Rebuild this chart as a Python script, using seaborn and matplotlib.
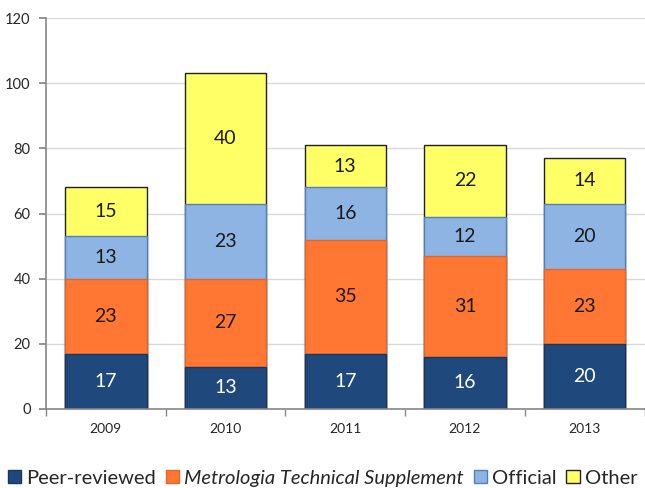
import matplotlib
matplotlib.use("Agg")
import matplotlib.pyplot as plt
import seaborn as sns
import pandas as pd
import numpy as np
from matplotlib.patches import Patch

years = ["2009", "2010", "2011", "2012", "2013"]
peer = [17, 13, 17, 16, 20]
metro = [23, 27, 35, 31, 23]
official = [13, 23, 16, 12, 20]
other = [15, 40, 13, 22, 14]
series_names = ["Peer-reviewed", "Metrologia Technical Supplement", "Official", "Other"]
colors = ["#1F497D", "#FF7733", "#8EB4E3", "#FFFF66"]
edges = ["#17375E", "#E0662A", "#4F81BD", "#202020"]
text_colors = ["white", "#1a1a1a", "#1a1a1a", "#1a1a1a"]
yticks = [0, 20, 40, 60, 80, 100, 120]

sns.set_theme(style="white")
plt.rcParams["font.family"] = ["Lato", "DejaVu Sans"]

series = [peer, metro, official, other]
cum = np.cumsum(np.array(series), axis=0)

fig = plt.figure(figsize=(6.45, 4.88), dpi=100)
ax = fig.add_axes([0.0713, 0.162, 0.928, 0.801])

for i in reversed(range(4)):
    df = pd.DataFrame({"year": years, "val": cum[i]})
    sns.barplot(data=df, x="year", y="val", color=colors[i], saturation=1,
                width=0.68, edgecolor=edges[i], linewidth=1.0, ax=ax, zorder=2)

for i in range(4):
    for j, y in enumerate(years):
        ax.text(j, cum[i][j] - series[i][j] / 2, str(series[i][j]), ha="center",
                va="center", fontsize=14, color=text_colors[i], zorder=5)

ax.set_ylim(0, 120)
ax.set_xlim(-0.5, 4.5)
ax.set_yticks(yticks)
ax.set_yticklabels([str(t) for t in yticks], fontsize=10.5)
ax.yaxis.grid(True, color="#D9D9D9", linewidth=1.0, zorder=0)
ax.set_axisbelow(True)
ax.set_xlabel("")
ax.set_ylabel("")
ax.tick_params(axis="x", which="major", length=0, labelsize=10, pad=10)
ax.set_xticks(np.arange(-0.5, 5.0, 1.0), minor=True)
ax.tick_params(axis="x", which="minor", length=5, color="#868686", direction="out", bottom=True)
ax.tick_params(axis="y", length=5, color="#868686", direction="out", left=True, pad=6)
for s in ["top", "right"]:
    ax.spines[s].set_visible(False)
for s in ["left", "bottom"]:
    ax.spines[s].set_color("#868686")
    ax.spines[s].set_linewidth(1.2)

handles = [Patch(facecolor=colors[i], edgecolor=edges[i], label=series_names[i]) for i in range(4)]
leg = fig.legend(handles=handles, loc="center", bbox_to_anchor=(0.5, 0.02), ncol=4,
                 frameon=False, fontsize=14.5, handlelength=0.65, handleheight=0.65,
                 handletextpad=0.25, columnspacing=0.5)
leg.get_texts()[1].set_fontstyle("italic")

fig.savefig("out.png", dpi=100)
